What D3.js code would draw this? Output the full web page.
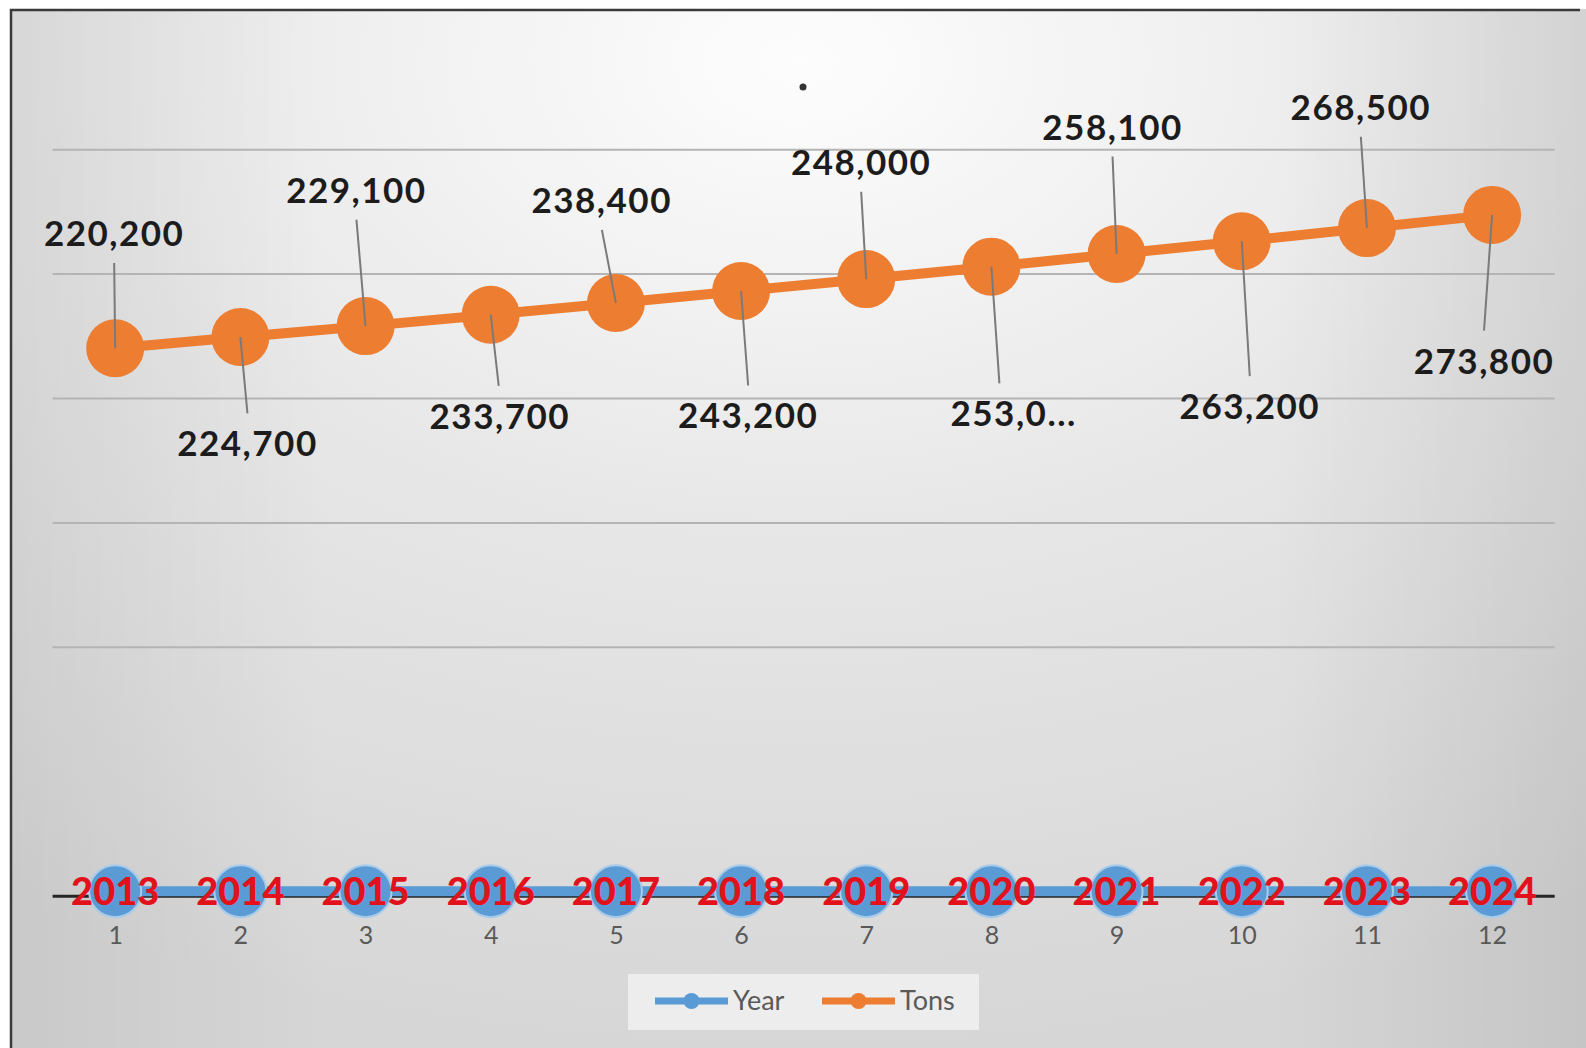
<!DOCTYPE html>
<html>
<head>
<meta charset="utf-8">
<script src="https://cdn.jsdelivr.net/npm/d3@7"></script>
<style>
  html, body { margin: 0; padding: 0; background: #fff; }
  svg { display: block; }
</style>
</head>
<body>
<div id="chart"></div>
<script>
// data
const categories = ["1","2","3","4","5","6","7","8","9","10","11","12"];
const years = [2013, 2014, 2015, 2016, 2017, 2018, 2019, 2020, 2021, 2022, 2023, 2024];
const tons = [220200, 224700, 229100, 233700, 238400, 243200, 248000, 253000, 258100, 263200, 268500, 273800];
const tonsLabels = ["220,200","224,700","229,100","233,700","238,400","243,200","248,000","253,0...","258,100","263,200","268,500","273,800"];
const gridTicks = [100000, 150000, 200000, 250000, 300000];
const seriesNames = ["Year", "Tons"];

// label offsets from the point (layout only)
const labelOffsets = [[-1,-113],[7,106],[-9,-134],[9,101],[-14,-101],[7,124],[-5,-115],[22,146],[-4,-125],[8,164],[-6,-119],[-8,145]];

const W = 1586, H = 1048;
const svg = d3.select("#chart").append("svg")
    .attr("width", W).attr("height", H);

// background: light centre at top, darker toward the sides
const defs = svg.append("defs");
const grad = defs.append("radialGradient")
    .attr("id", "bg")
    .attr("cx", 0.5).attr("cy", 0.05).attr("r", 0.95)
    .attr("fx", 0.5).attr("fy", 0.05);
grad.append("stop").attr("offset", 0).attr("stop-color", "#fdfdfd");
grad.append("stop").attr("offset", 0.5).attr("stop-color", "#e6e6e6");
grad.append("stop").attr("offset", 1).attr("stop-color", "#d6d6d6");

const side = defs.append("linearGradient").attr("id", "side")
    .attr("x1", 0).attr("x2", 1).attr("y1", 0).attr("y2", 0);
side.append("stop").attr("offset", 0).attr("stop-color", "#000").attr("stop-opacity", 0.06);
side.append("stop").attr("offset", 0.2).attr("stop-color", "#000").attr("stop-opacity", 0);
side.append("stop").attr("offset", 0.8).attr("stop-color", "#000").attr("stop-opacity", 0);
side.append("stop").attr("offset", 1).attr("stop-color", "#000").attr("stop-opacity", 0.08);

svg.append("rect").attr("x", 10).attr("y", 9).attr("width", W - 10).attr("height", H - 9)
    .attr("fill", "url(#bg)");
svg.append("rect").attr("x", 10).attr("y", 9).attr("width", W - 10).attr("height", H - 9)
    .attr("fill", "url(#side)");
svg.append("path").attr("d", `M11,${H} L11,10 L1580,10`)
    .attr("fill", "none").attr("stroke", "#3a3a3a").attr("stroke-width", 2.5);

// scales
const x = d3.scalePoint().domain(categories).range([52.6, 1554.7]).padding(0.5);
const y = d3.scaleLinear().domain([0, 300000]).range([896.2, 149.7]);

// gridlines
svg.append("g").selectAll("line").data(gridTicks).join("line")
    .attr("x1", 52.6).attr("x2", 1554.7)
    .attr("y1", d => y(d)).attr("y2", d => y(d))
    .attr("stroke", "#b4b4b4").attr("stroke-width", 2);

// category axis
const xAxis = svg.append("g")
    .attr("transform", `translate(0, ${y(0)})`)
    .call(d3.axisBottom(x).tickSize(0).tickPadding(30));
xAxis.select(".domain").attr("stroke", "#262626").attr("stroke-width", 3)
    .attr("d", `M52.6,0H1554.7`);
xAxis.selectAll("text")
    .attr("font-family", "Lato, sans-serif").attr("font-size", 25)
    .attr("fill", "#595959");

// Year series
const blue = "#5b9bd5", orange = "#ed7d31";
const line = d3.line().x((d, i) => x(categories[i])).y(d => y(d));
svg.append("path").datum(years).attr("d", line)
    .attr("fill", "none").attr("stroke", blue).attr("stroke-width", 10);
svg.append("g").selectAll("circle").data(years).join("circle")
    .attr("cx", (d, i) => x(categories[i])).attr("cy", d => y(d)).attr("r", 26)
    .attr("fill", blue).attr("stroke", "#a9cbea").attr("stroke-width", 2);
svg.append("g").selectAll("text").data(years).join("text")
    .attr("x", (d, i) => x(categories[i])).attr("y", d => y(d) + 14)
    .attr("text-anchor", "middle")
    .attr("font-family", "Lato, sans-serif").attr("font-weight", 900)
    .attr("font-size", 38).attr("letter-spacing", 0)
    .attr("fill", "#e2121c")
    .text(d => d);

// Tons series
svg.append("path").datum(tons).attr("d", line)
    .attr("fill", "none").attr("stroke", orange).attr("stroke-width", 10);
svg.append("g").selectAll("circle").data(tons).join("circle")
    .attr("cx", (d, i) => x(categories[i])).attr("cy", d => y(d)).attr("r", 29)
    .attr("fill", orange);

// leader lines and data labels
const lab = svg.append("g");
tons.forEach((v, i) => {
    const px = x(categories[i]), py = y(v);
    const [dx, dy] = labelOffsets[i].map(o => o * 1.0115);
    const lx = px + dx, ly = py + dy;
    const ex = px + Math.max(-14, Math.min(8, dx));
    const ey = dy < 0 ? ly + 29 : ly - 31;
    lab.append("line")
        .attr("x1", ex).attr("y1", ey).attr("x2", px).attr("y2", py)
        .attr("stroke", "#7a7a7a").attr("stroke-width", 2);
    lab.append("text")
        .attr("x", lx).attr("y", ly + 12)
        .attr("text-anchor", "middle")
        .attr("font-family", "Lato, sans-serif").attr("font-weight", "bold")
        .attr("font-size", 35).attr("letter-spacing", 1.5)
        .attr("fill", "#1c1c1c")
        .text(tonsLabels[i]);
});

// stray dot near top
svg.append("circle").attr("cx", 803).attr("cy", 87).attr("r", 3.5).attr("fill", "#333");

// legend
const legend = svg.append("g");
legend.append("rect").attr("x", 628).attr("y", 974).attr("width", 351).attr("height", 56)
    .attr("fill", "#efefef").attr("opacity", 0.9);
const legendItems = [
    {name: seriesNames[0], color: blue, x0: 655, tx: 733},
    {name: seriesNames[1], color: orange, x0: 822, tx: 900}
];
legendItems.forEach(it => {
    legend.append("line").attr("x1", it.x0).attr("x2", it.x0 + 73)
        .attr("y1", 1001).attr("y2", 1001)
        .attr("stroke", it.color).attr("stroke-width", 7);
    legend.append("circle").attr("cx", it.x0 + 36.5).attr("cy", 1001).attr("r", 8)
        .attr("fill", it.color);
    legend.append("text").attr("x", it.tx).attr("y", 1010)
        .attr("font-family", "Lato, sans-serif").attr("font-size", 27)
        .attr("fill", "#595959")
        .text(it.name);
});
</script>
</body>
</html>
